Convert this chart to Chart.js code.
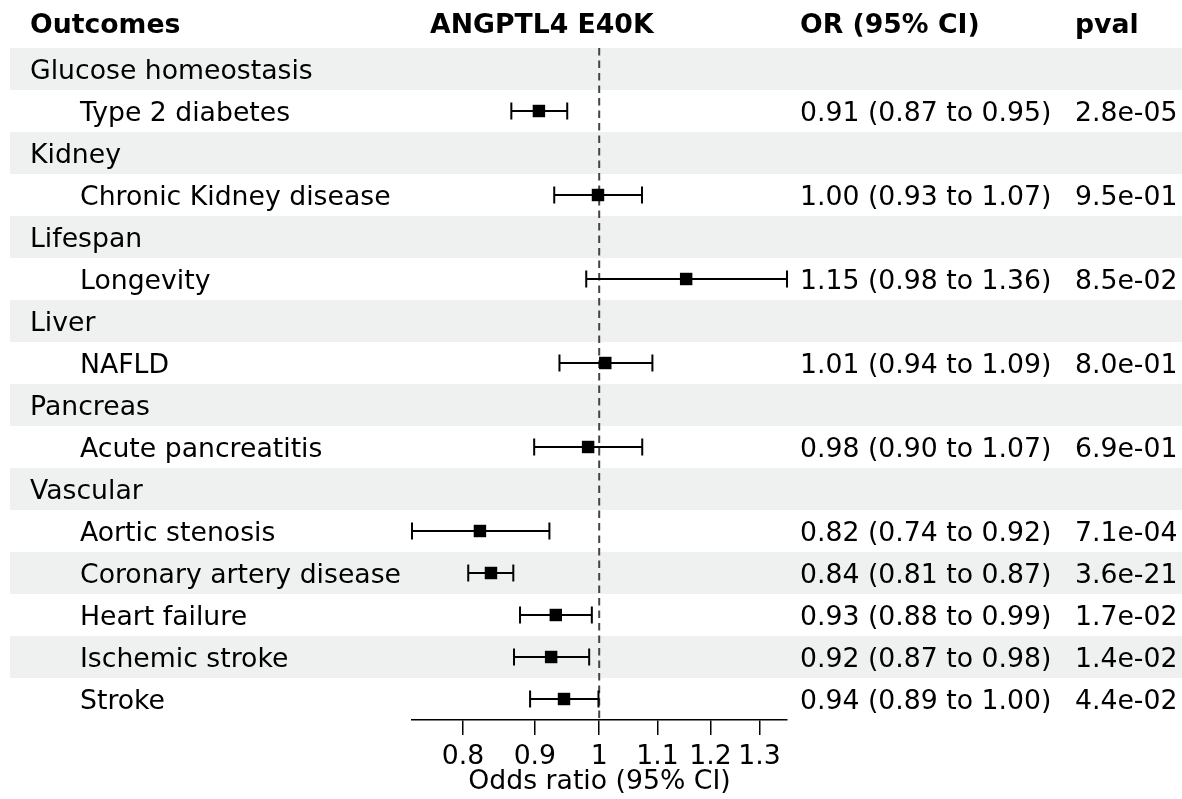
<!DOCTYPE html>
<html>
<head>
<meta charset="utf-8">
<script src="https://cdn.jsdelivr.net/npm/chart.js@4"></script>
<style>
  html, body { margin: 0; padding: 0; background: #fff; }
  #wrap { width: 1182px; height: 799px; position: relative; }
</style>
</head>
<body>
<div id="wrap"><canvas id="forest"></canvas></div>
<script>
const groupNames = ['Glucose homeostasis', 'Kidney', 'Lifespan', 'Liver', 'Pancreas', 'Vascular'];
const outcomeNames = ['Type 2 diabetes', 'Chronic Kidney disease', 'Longevity', 'NAFLD', 'Acute pancreatitis',
  'Aortic stenosis', 'Coronary artery disease', 'Heart failure', 'Ischemic stroke', 'Stroke'];
const outcomeGroup = [0, 1, 2, 3, 4, 5, 5, 5, 5, 5];
const orValues = [0.906, 0.998, 1.153, 1.01, 0.982, 0.8226, 0.8376, 0.9314, 0.9243, 0.944];
const loValues = [0.866, 0.929, 0.979, 0.937, 0.899, 0.736, 0.807, 0.8784, 0.8698, 0.893];
const hiValues = [0.949, 1.0726, 1.36, 1.091, 1.073, 0.9217, 0.8688, 0.988, 0.9837, 0.9988];
const pValues = ['2.8e-05', '9.5e-01', '8.5e-02', '8.0e-01', '6.9e-01', '7.1e-04', '3.6e-21', '1.7e-02', '1.4e-02', '4.4e-02'];
const xTicks = [0.8, 0.9, 1, 1.1, 1.2, 1.3];
const headers = ['Outcomes', 'ANGPTL4 E40K', 'OR (95% CI)', 'pval'];

const FONT = '"DejaVu Sans", sans-serif';
const SIZE = 26.7;
const fmt = (v) => v.toFixed(2);

// one row per group header, followed by its outcomes
const rows = [];
groupNames.forEach((g, gi) => {
  rows.push({ label: g, group: true });
  outcomeGroup.forEach((og, i) => {
    if (og === gi) rows.push({ label: outcomeNames[i], idx: i });
  });
});

const points = rows.map((r, y) => (r.group ? null : { x: orValues[r.idx], y })).filter(Boolean);

const forestPlugin = {
  id: 'forest',
  beforeDatasetsDraw(chart) {
    const { ctx, chartArea, scales: { x, y } } = chart;
    const rowH = Math.abs(y.getPixelForValue(1) - y.getPixelForValue(0));
    ctx.save();
    // stripes
    ctx.fillStyle = '#eff1f0';
    rows.forEach((r, i) => {
      if (i % 2 === 0) {
        const cy = y.getPixelForValue(i);
        ctx.fillRect(10, cy - rowH / 2, chart.width - 10, rowH);
      }
    });
    // headers
    ctx.fillStyle = '#000';
    ctx.font = `bold ${SIZE}px ${FONT}`;
    ctx.textBaseline = 'alphabetic';
    ctx.fillText(headers[0], 30, 33);
    ctx.fillText(headers[1], 430, 33);
    ctx.fillText(headers[2], 800, 33);
    ctx.fillText(headers[3], 1075, 33);
    // row texts
    ctx.font = `${SIZE}px ${FONT}`;
    rows.forEach((r, i) => {
      const base = y.getPixelForValue(i) + 9.5;
      if (r.group) {
        ctx.fillText(r.label, 30, base);
      } else {
        ctx.fillText(r.label, 80, base);
        const k = r.idx;
        ctx.fillText(`${fmt(orValues[k])} (${fmt(loValues[k])} to ${fmt(hiValues[k])})`, 800, base);
        ctx.fillText(pValues[k], 1075, base);
      }
    });
    // reference line at OR = 1
    const x1 = x.getPixelForValue(1);
    ctx.strokeStyle = '#444';
    ctx.lineWidth = 2;
    ctx.setLineDash([7.5, 5]);
    ctx.beginPath();
    ctx.moveTo(x1, chartArea.top);
    ctx.lineTo(x1, chartArea.bottom);
    ctx.stroke();
    ctx.setLineDash([]);
    // confidence intervals
    ctx.strokeStyle = '#000';
    ctx.lineWidth = 2;
    rows.forEach((r, i) => {
      if (r.group) return;
      const cy = y.getPixelForValue(i);
      const xl = x.getPixelForValue(loValues[r.idx]);
      const xh = x.getPixelForValue(hiValues[r.idx]);
      ctx.beginPath();
      ctx.moveTo(xl, cy);
      ctx.lineTo(xh, cy);
      ctx.moveTo(xl, cy - 8.5);
      ctx.lineTo(xl, cy + 8.5);
      ctx.moveTo(xh, cy - 8.5);
      ctx.lineTo(xh, cy + 8.5);
      ctx.stroke();
    });
    ctx.restore();
  },
};

new Chart(document.getElementById('forest'), {
  type: 'scatter',
  data: {
    datasets: [{
      label: 'OR',
      data: points,
      pointStyle: 'rect',
      pointRadius: 8.8,
      pointHoverRadius: 8.8,
      backgroundColor: '#000',
      borderWidth: 0,
    }],
  },
  options: {
    responsive: true,
    maintainAspectRatio: false,
    animation: false,
    layout: { padding: { left: 412, right: 395, top: 48, bottom: 0 } },
    plugins: {
      legend: { display: false },
      tooltip: { enabled: false },
    },
    scales: {
      x: {
        type: 'logarithmic',
        min: 0.736,
        max: 1.36,
        afterBuildTicks: (s) => { s.ticks = xTicks.map((v) => ({ value: v })); },
        afterFit: (s) => { s.height = 79; },
        ticks: {
          autoSkip: false,
          maxRotation: 0,
          padding: 6,
          color: '#000',
          font: { family: FONT, size: SIZE },
          callback: (v) => String(v),
        },
        grid: { drawOnChartArea: false, drawTicks: true, tickLength: 15, color: '#000', lineWidth: 1.5 },
        border: { display: true, color: '#000', width: 1.5 },
        title: {
          display: true,
          text: 'Odds ratio (95% CI)',
          color: '#000',
          font: { family: FONT, size: SIZE },
          padding: { top: 0, bottom: 1 },
        },
      },
      y: {
        type: 'linear',
        display: false,
        reverse: true,
        min: -0.5,
        max: rows.length - 0.5,
      },
    },
  },
  plugins: [forestPlugin],
});
</script>
</body>
</html>
